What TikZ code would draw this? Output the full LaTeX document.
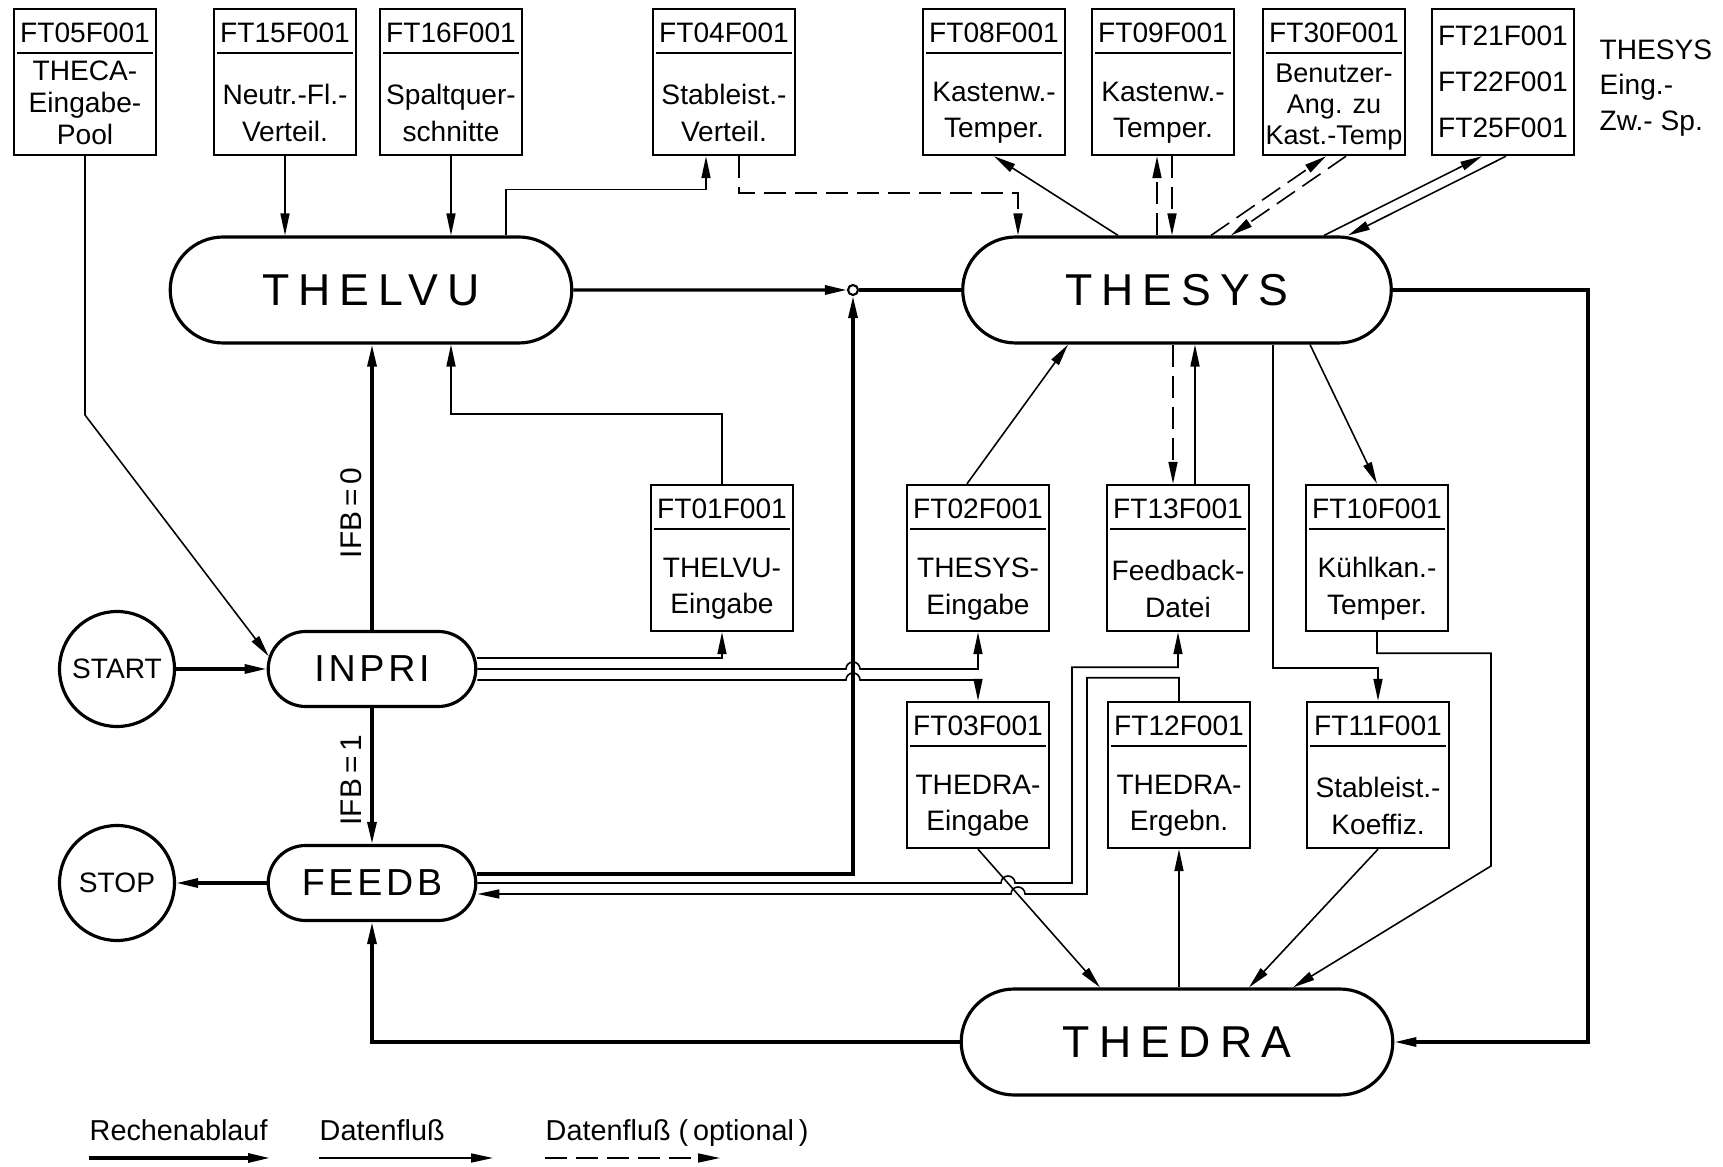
\documentclass[tikz,border=0pt]{standalone}
\usepackage{fontspec}
\setmainfont{Liberation Sans}
\newfontfamily\widefont[LetterSpace=20]{Liberation Sans}
\newfontfamily\midfont[LetterSpace=10]{Liberation Sans}
\usetikzlibrary{arrows.meta,shapes.misc}
\lineskiplimit=-20pt

\newcommand{\ftbox}[5][]{%
  \node[filebox] (#2) at (#3) {};
  \node[headtext] (#2h) at ([yshift=-2.5mm]#2.north) {#4};
  \draw[line width=0.6pt] ([xshift=0.4mm,yshift=-4.5mm]#2.north west) -- ([xshift=-0.4mm,yshift=-4.5mm]#2.north east);
  \node[bodytext, #1] (#2b) at ([yshift=-10.5mm]#2.north) {#5};
}

\begin{document}
\begin{tikzpicture}[>={Triangle[length=2.2mm,width=0.9mm]},
    filebox/.style={draw, line width=0.7pt, minimum width=1.42cm, minimum height=1.46cm, inner sep=0pt},
    headtext/.style={font=\fontsize{8}{9}\selectfont, inner sep=0pt},
    bodytext/.style={font=\fontsize{8}{10.5}\selectfont, align=center, inner sep=0pt},
    prognode/.style={rounded rectangle, draw, line width=0.9pt, minimum height=1.06cm, font=\widefont\fontsize{12.7}{15}\selectfont},
    smallprog/.style={rounded rectangle, draw, line width=0.9pt, minimum width=2.31cm, minimum height=0.75cm, font=\midfont\fontsize{10.7}{12}\selectfont},
    endnode/.style={circle, draw, line width=0.9pt, minimum size=1.15cm, inner sep=0pt, font=\fontsize{8}{9}\selectfont},
    ifbtext/.style={font=\fontsize{8.5}{10}\selectfont, rotate=90, anchor=south, inner sep=0.9mm},
    legtext/.style={font=\fontsize{8.2}{10}\selectfont, anchor=base west, inner sep=0pt},
    runline/.style={line width=0.9pt},
    dataline/.style={line width=0.45pt},
    optline/.style={line width=0.45pt, dash pattern=on 2.2mm off 0.9mm}]
\useasboundingbox (0,0) rectangle (17.23,-11.67);

\node[prognode, minimum width=4.25cm] (thelvu) at (3.71,-2.90) {THELVU};
\node[prognode, minimum width=4.52cm] (thesys) at (11.77,-2.90) {THESYS};
\node[prognode, minimum width=4.55cm] (thedra) at (11.77,-10.42) {THEDRA};
\node[smallprog] (inpri) at (3.72,-6.69) {INPRI};
\node[smallprog] (feedb) at (3.72,-8.83) {FEEDB};
\node[endnode] (start) at (1.17,-6.69) {START};
\node[endnode] (stop) at (1.17,-8.83) {STOP};
\node[circle, draw, line width=0.6pt, inner sep=0pt, minimum size=1mm, fill=white] (jn) at (8.53,-2.90) {};

\ftbox[yshift=1.0mm, font=\fontsize{8}{9}\selectfont]{ft05}{0.85,-0.82}{FT05F001}{THECA-\\Eingabe-\\Pool}
\ftbox{ft15}{2.85,-0.82}{FT15F001}{Neutr.-Fl.-\\Verteil.}
\ftbox{ft16}{4.51,-0.82}{FT16F001}{Spaltquer-\\schnitte}
\ftbox{ft04}{7.24,-0.82}{FT04F001}{Stableist.-\\Verteil.}
\ftbox{ft08}{9.94,-0.82}{FT08F001}{Kastenw.-\\Temper.}
\ftbox{ft09}{11.63,-0.82}{FT09F001}{Kastenw.-\\Temper.}
\ftbox[yshift=0.6mm, font=\fontsize{7.7}{8.8}\selectfont]{ft30}{13.34,-0.82}{FT30F001}{Benutzer-\\Ang. zu\\Kast.-Temp}
\node[filebox, font=\fontsize{8}{13}\selectfont, align=center] (ft21) at (15.03,-0.82) {FT21F001\\FT22F001\\FT25F001};
\node[anchor=west, align=left, font=\fontsize{8}{10}\selectfont, inner sep=0pt] (eing) at (15.99,-0.88) {THESYS\\Eing.-\\Zw.- Sp.};

\ftbox{ft01}{7.22,-5.58}{FT01F001}{THELVU-\\Eingabe}
\ftbox{ft02}{9.78,-5.58}{FT02F001}{THESYS-\\Eingabe}
\ftbox{ft13}{11.78,-5.58}{FT13F001}{Feedback-\\Datei}
\ftbox{ft10}{13.77,-5.58}{FT10F001}{Kühlkan.-\\Temper.}
\ftbox{ft03}{9.78,-7.75}{FT03F001}{THEDRA-\\Eingabe}
\ftbox{ft12}{11.79,-7.75}{FT12F001}{THEDRA-\\Ergebn.}
\ftbox{ft11}{13.78,-7.75}{FT11F001}{Stableist.-\\Koeffiz.}

\draw[runline, ->] (start) -- (inpri);
\draw[runline, ->] (inpri.north) -- (inpri.north |- thelvu.south) node[ifbtext, pos=0.41] (ifb0) {IFB\,=\,0};
\draw[runline, ->] (inpri.south) -- (feedb.north) node[ifbtext, pos=0.53] (ifb1) {IFB\,=\,1};
\draw[runline, ->] (feedb) -- (stop);
\draw[runline, ->] (thelvu) -- (jn);
\draw[runline] (jn) -- (thesys);
\draw[runline, ->] ([yshift=0.9mm]feedb.east) -| (jn.south);
\coordinate (rcorner) at (15.88,-10.42);
\draw[runline, ->] (thesys.east) -| (rcorner) -- (thedra.east);
\draw[runline, ->] (thedra.west) -| (feedb.south);

\draw[dataline, ->] (ft05.south) -- (0.85,-4.15) -- (inpri.173);
\draw[dataline, ->] (ft15.south) -- (ft15.south |- thelvu.north);
\draw[dataline, ->] (ft16.south) -- (ft16.south |- thelvu.north);
\draw[dataline, ->] ([xshift=1.35cm]thelvu.north) -- ++(0,0.46) -| ([xshift=-0.18cm]ft04.south);
\draw[optline, ->] ([xshift=0.15cm]ft04.south) -- ++(0,-0.37) -| ([xshift=-1.59cm]thesys.north);
\draw[dataline, ->] ([xshift=-0.59cm]thesys.north) -- (ft08.south);
\draw[optline, ->] ([xshift=-0.6mm]ft09.south |- thesys.north) -- ([xshift=-0.6mm]ft09.south);
\draw[optline, ->] ([xshift=0.9mm]ft09.south) -- ([xshift=0.9mm]ft09.south |- thesys.north);
\draw[optline, ->] ([xshift=0.34cm]thesys.north) -- ([xshift=-0.8mm]ft30.south);
\draw[optline, ->] ([xshift=1.2mm]ft30.south) -- ([xshift=0.54cm]thesys.north);
\draw[dataline, ->] ([xshift=1.47cm]thesys.north) -- ([xshift=-2.1mm]ft21.south);
\draw[dataline, ->] ([xshift=0.3mm]ft21.south) -- ([xshift=1.71cm]thesys.north);

\draw[dataline, ->] (ft01.north) -- ++(0,0.70) -| ([xshift=0.8cm]thelvu.south);
\draw[dataline, ->] ([yshift=1.1mm]inpri.east) -| (ft01.south);
\draw[dataline, ->] (inpri.east) -- (8.46,-6.69) arc[start angle=180, end angle=0, radius=0.7mm] -| (ft02.south);
\draw[dataline, ->] ([yshift=-1.1mm]inpri.east) -- (8.46,-6.80) arc[start angle=180, end angle=0, radius=0.7mm] -| (ft03.north);
\draw[dataline, ->] ([xshift=-1.1mm]ft02.north) -- ([xshift=-1.09cm]thesys.south);
\draw[optline, ->] ([xshift=-0.5mm]ft13.north |- thesys.south) -- ([xshift=-0.5mm]ft13.north);
\draw[dataline, ->] ([xshift=1.7mm]ft13.north) -- ([xshift=1.7mm]ft13.north |- thesys.south);
\draw[dataline, ->] ([xshift=1.33cm]thesys.south) -- (ft10.north);
\draw[dataline, ->] ([xshift=0.96cm]thesys.south) |- ([yshift=0.33cm]ft11.north) -- (ft11.north);

\draw[dataline, ->] (feedb.east) -- (10.01,-8.83) arc[start angle=180, end angle=0, radius=0.7mm] -- (10.72,-8.83) |- ([yshift=-0.35cm]ft13.south) -- (ft13.south);
\draw[dataline, ->] (ft12.north) -- ++(0,0.23) -| (10.87,-8.94) -- (10.25,-8.94) arc[start angle=0, end angle=180, radius=0.7mm] -- ([yshift=-1.1mm]feedb.east);
\draw[dataline, ->] (ft03.south) -- ([xshift=-0.77cm]thedra.north);
\draw[dataline, ->] (ft12.south |- thedra.north) -- (ft12.south);
\draw[dataline, ->] (ft11.south) -- ([xshift=0.72cm]thedra.north);
\draw[dataline, ->] (ft10.south) -- ++(0,-0.21) -| (14.91,-8.66) -- ([xshift=1.16cm]thedra.north);

\node[legtext] (lgrun) at (0.89,-11.40) {Rechenablauf};
\draw[runline, ->] ([yshift=-1.8mm]lgrun.base west) -- ++(1.81,0);
\node[legtext] (lgdata) at (3.19,-11.40) {Datenfluß};
\draw[dataline, ->] ([yshift=-1.8mm]lgdata.base west) -- ++(1.74,0);
\node[legtext] (lgopt) at (5.45,-11.40) {Datenfluß (\,optional\,)};
\draw[optline, ->] ([yshift=-1.8mm]lgopt.base west) -- ++(1.75,0);

\end{tikzpicture}
\end{document}
